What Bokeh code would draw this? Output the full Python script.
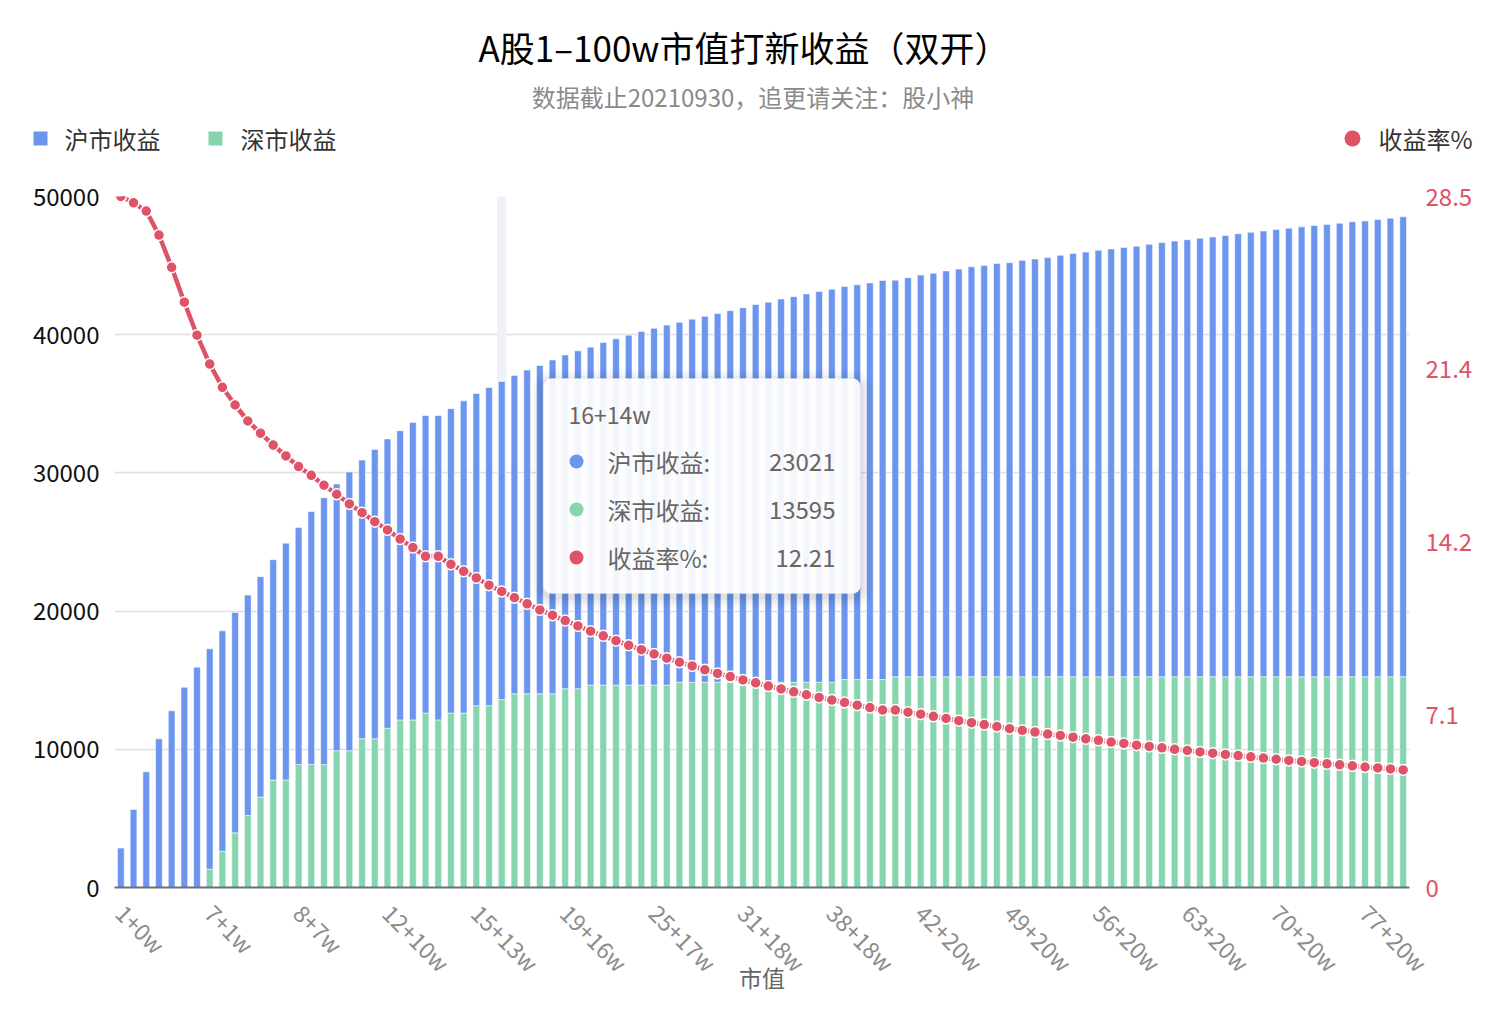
import math
from bokeh.plotting import figure
from bokeh.layouts import column
from bokeh.models import (Range1d, LinearAxis, FixedTicker, Label, BoxAnnotation,
                          ColumnDataSource)
from bokeh.embed import file_html
from bokeh.resources import INLINE

# ---------------- data ----------------
categories = [
    "1+0w", "2+0w", "3+0w", "4+0w", "5+0w", "6+0w", "7+0w",
    "7+1w", "7+2w", "7+3w", "7+4w", "7+5w", "7+6w",
    "8+6w", "8+7w", "9+7w", "10+7w", "10+8w", "11+8w", "11+9w", "12+9w", "12+10w",
    "12+11w", "13+11w", "13+12w", "14+11w", "14+12w", "15+12w", "15+13w", "16+13w",
    "16+14w", "16+15w", "17+15w", "18+15w", "19+15w", "19+16w", "20+16w", "20+17w",
    "21+17w", "22+17w", "23+17w", "24+17w", "25+17w", "26+17w", "26+18w", "27+18w",
    "28+18w", "29+18w", "30+18w", "31+18w", "32+18w", "33+18w", "34+18w", "35+18w",
    "36+18w", "37+18w", "38+18w", "38+19w", "39+19w", "40+19w", "41+19w", "40+20w",
    "41+20w", "42+20w", "43+20w", "44+20w", "45+20w", "46+20w", "47+20w", "48+20w",
    "49+20w", "50+20w", "51+20w", "52+20w", "53+20w", "54+20w", "55+20w", "56+20w",
    "57+20w", "58+20w", "59+20w", "60+20w", "61+20w", "62+20w", "63+20w", "64+20w",
    "65+20w", "66+20w", "67+20w", "68+20w", "69+20w", "70+20w", "71+20w", "72+20w",
    "73+20w", "74+20w", "75+20w", "76+20w", "77+20w", "78+20w", "79+20w", "80+20w",
]

sh_income = [
    2850, 5647, 8371, 10763, 12790, 14484, 15946,
    15946, 15946, 15946, 15946, 15946, 15946,
    17142, 17142, 18304, 19301, 19301, 20164, 20164, 20929, 20929,
    20929, 21527, 21527, 22025, 22025, 22589, 22589, 23021,
    23021, 23021, 23420, 23752, 24151, 24151, 24450, 24450,
    24782, 25048, 25314, 25579, 25812, 26045, 26045, 26277,
    26477, 26676, 26892, 27108, 27340, 27507, 27739, 27905,
    28104, 28271, 28437, 28437, 28560, 28700, 28880, 28700,
    28880, 29067, 29200, 29366, 29499, 29665, 29765, 29898,
    29964, 30131, 30230, 30330, 30496, 30629, 30728, 30861,
    30961, 31061, 31160, 31293, 31426, 31526, 31625, 31725,
    31825, 31924, 32057, 32157, 32257, 32356, 32456, 32556,
    32655, 32722, 32821, 32921, 32987, 33087, 33187, 33286,
]

sz_income = [
    0, 0, 0, 0, 0, 0, 0,
    1329, 2624, 3953, 5216, 6544, 7773,
    7773, 8903, 8903, 8903, 9900, 9900, 10763, 10763, 11527,
    12125, 12125, 12624, 12125, 12624, 12624, 13155, 13155,
    13595, 14019, 14019, 14019, 14019, 14384, 14384, 14650,
    14650, 14650, 14650, 14650, 14650, 14650, 14849, 14849,
    14849, 14849, 14849, 14849, 14849, 14849, 14849, 14849,
    14849, 14849, 14849, 15050, 15050, 15050, 15050, 15248,
    15248, 15248, 15248, 15248, 15248, 15248, 15248, 15248,
    15248, 15248, 15248, 15248, 15248, 15248, 15248, 15248,
    15248, 15248, 15248, 15248, 15248, 15248, 15248, 15248,
    15248, 15248, 15248, 15248, 15248, 15248, 15248, 15248,
    15248, 15248, 15248, 15248, 15248, 15248, 15248, 15248,
]

rate_pct = [
    28.50, 28.24, 27.90, 26.91, 25.58, 24.14, 22.78,
    21.59, 20.63, 19.90, 19.24, 18.74, 18.25,
    17.80, 17.36, 17.00, 16.59, 16.22, 15.82, 15.46, 15.09, 14.75,
    14.37, 14.02, 13.66, 13.66, 13.33, 13.04, 12.77, 12.47,
    12.21, 11.95, 11.70, 11.45, 11.23, 11.01, 10.79, 10.57,
    10.38, 10.18, 9.99, 9.81, 9.63, 9.46, 9.29, 9.14,
    8.98, 8.83, 8.70, 8.56, 8.44, 8.31, 8.19, 8.07,
    7.95, 7.84, 7.73, 7.63, 7.52, 7.42, 7.32, 7.32,
    7.23, 7.15, 7.06, 6.97, 6.88, 6.80, 6.72, 6.64,
    6.55, 6.48, 6.41, 6.33, 6.27, 6.20, 6.13, 6.07,
    6.00, 5.94, 5.87, 5.82, 5.76, 5.70, 5.65, 5.59,
    5.54, 5.49, 5.44, 5.39, 5.34, 5.29, 5.24, 5.20,
    5.15, 5.10, 5.06, 5.02, 4.97, 4.93, 4.89, 4.85,
]

left_ticks = [0, 10000, 20000, 30000, 40000, 50000]
right_ticks = [0, 7.125, 14.25, 21.375, 28.5]
right_tick_labels = ["0", "7.1", "14.2", "21.4", "28.5"]
x_label_step = 7
hover_index = 30

title_text = "A股1–100w市值打新收益（双开）"
subtitle_text = "数据截止20210930，追更请关注：股小神"
series_names = ["沪市收益", "深市收益", "收益率%"]
x_name = "市值"

# ---------------- style ----------------
FONT = "Noto Sans CJK SC"
BLUE = "#6B95EF"
GREEN = "#85D5AE"
RED = "#DE5368"

N = len(categories)
xs = list(range(N))

W = 1478
HH = 160                      # header height
H = 1002 - HH                 # main figure height
ML, MR, MT, MB = 114, 69, 36, 115
FW, FH = W - ML - MR, H - MT - MB
FRAME_TOP = HH + MT           # page y of frame top


def dx(px):  # page pixel x -> data x
    return -0.5 + (px - ML) / FW * N


def dy(py):  # page pixel y -> data y (left axis)
    return (FRAME_TOP + FH - py) / FH * left_ticks[-1]


# ---------------- header (title, subtitle, legend) ----------------
hd = figure(width=W, height=HH, x_range=Range1d(0, W), y_range=Range1d(HH, 0),
            x_axis_type=None, y_axis_type=None, output_backend="svg",
            toolbar_location=None, min_border_left=0, min_border_right=0,
            min_border_top=0, min_border_bottom=0)
hd.frame_align = False
hd.outline_line_color = None
hd.grid.visible = False
hd.background_fill_color = "white"
hd.border_fill_color = "white"

hd.add_layout(Label(x=743.5, y=46, text=title_text, text_align="center",
                    text_baseline="middle", text_font=FONT, text_font_size="35px",
                    text_color="#000000"))
hd.add_layout(Label(x=752.5, y=96, text=subtitle_text, text_align="center",
                    text_baseline="middle", text_font=FONT, text_font_size="24px",
                    text_color="#8A8A8A"))
# legend markers
hd.rect(x=[40, 215], y=[138, 138], width=14, height=14,
        fill_color=[BLUE, GREEN], line_color=None)
hd.scatter(x=[1352], y=[138], size=16, fill_color=RED, line_color=None)
for tx, name in zip([64, 240, 1378], series_names):
    hd.add_layout(Label(x=tx, y=138, text=name, text_align="left", text_baseline="middle",
                        text_font=FONT, text_font_size="24px", text_color="#333333"))

# ---------------- main chart ----------------
src = ColumnDataSource(dict(x=xs, sh=sh_income, sz=sz_income, rate=rate_pct, cat=categories))

p = figure(width=W, height=H, x_range=Range1d(-0.5, N - 0.5),
           y_range=Range1d(left_ticks[0], left_ticks[-1]),
           output_backend="svg", toolbar_location=None,
           min_border_left=ML, min_border_right=MR, min_border_top=MT, min_border_bottom=MB)
p.frame_align = False
p.outline_line_color = None
p.background_fill_color = "white"
p.border_fill_color = "white"

p.xgrid.visible = False
p.ygrid.ticker = FixedTicker(ticks=left_ticks)
p.ygrid.grid_line_color = "#E0E0E0"
p.ygrid.grid_line_width = 1.5

# left axis
ya = p.yaxis[0]
ya.ticker = FixedTicker(ticks=left_ticks)
ya.axis_line_color = None
ya.major_tick_line_color = None
ya.minor_tick_line_color = None
ya.major_tick_out = 0
ya.major_tick_in = 0
ya.minor_tick_out = 0
ya.major_label_standoff = 15
ya.major_label_text_font = FONT
ya.major_label_text_font_size = "24px"
ya.major_label_text_color = "#111111"

# right axis
p.extra_y_ranges = {"rate": Range1d(right_ticks[0], right_ticks[-1])}
ra = LinearAxis(y_range_name="rate", ticker=FixedTicker(ticks=right_ticks),
                major_label_overrides={t: s for t, s in zip(right_ticks, right_tick_labels)})
ra.axis_line_color = None
ra.major_tick_line_color = None
ra.minor_tick_line_color = None
ra.major_tick_out = 0
ra.major_tick_in = 0
ra.minor_tick_out = 0
ra.major_label_standoff = 16
ra.major_label_text_font = FONT
ra.major_label_text_font_size = "24px"
ra.major_label_text_color = RED
p.add_layout(ra, "right")

# bottom axis
xa = p.xaxis[0]
shown = list(range(0, N, x_label_step))
xa.ticker = FixedTicker(ticks=shown)
xa.major_label_overrides = {i: categories[i] for i in shown}
xa.major_label_orientation = -math.pi / 4
xa.axis_line_color = "#6E7079"
xa.axis_line_width = 2
xa.major_tick_line_color = None
xa.minor_tick_line_color = None
xa.major_tick_out = 0
xa.major_tick_in = 0
xa.minor_tick_out = 0
xa.major_label_standoff = 21
xa.major_label_text_font = FONT
xa.major_label_text_font_size = "23px"
xa.major_label_text_color = "#8C8C8C"
xa.axis_label = x_name
xa.axis_label_text_font = FONT
xa.axis_label_text_font_size = "23px"
xa.axis_label_text_font_style = "normal"
xa.axis_label_text_color = "#666666"
xa.axis_label_standoff = -34

# hover shadow band
p.vbar(x=[xs[hover_index]], top=[left_ticks[-1]], width=0.75, fill_color="#EEF1F8",
       line_color=None)

# stacked bars
bar_rs = p.vbar_stack(["sz", "sh"], x="x", width=0.53, source=src,
                      fill_color=[GREEN, BLUE], line_color="#FFFFFF", line_alpha=0.55,
                      line_width=1)

# rate line
p.line("x", "rate", source=src, y_range_name="rate", line_color=RED, line_width=4.5)
dot_r = p.scatter("x", "rate", source=src, y_range_name="rate", size=11,
                  fill_color=RED, line_color="white", line_width=1.5)

# tooltip
TL, TR, TT, TB = 543, 860, 378, 593
for grow, alpha in [(12, 0.02), (9, 0.025), (6, 0.035), (3, 0.045)]:
    p.add_layout(BoxAnnotation(left=dx(TL - grow), right=dx(TR + grow),
                               top=dy(TT - grow + 3), bottom=dy(TB + grow + 3),
                               fill_color="black", fill_alpha=alpha, line_color=None,
                               border_radius=8 + grow))
p.add_layout(BoxAnnotation(left=dx(TL), right=dx(TR), top=dy(TT), bottom=dy(TB),
                           fill_color="white", fill_alpha=0.93, line_color="#EBEBEB",
                           line_width=1, border_radius=8))
p.add_layout(Label(x=dx(568), y=dy(413), text=categories[hover_index], text_align="left",
                   text_baseline="middle", text_font=FONT, text_font_size="23px",
                   text_color="#666666"))
row_vals = [str(sh_income[hover_index]), str(sz_income[hover_index]),
            f"{rate_pct[hover_index]:.2f}"]
row_cols = [BLUE, GREEN, RED]
for k, (nm, val, col) in enumerate(zip(series_names, row_vals, row_cols)):
    cy = 461 + 48 * k
    p.add_layout(BoxAnnotation(left=dx(569), right=dx(583), top=dy(cy - 7),
                               bottom=dy(cy + 7), fill_color=col, fill_alpha=1,
                               line_color=None, border_radius=7))
    p.add_layout(Label(x=dx(607), y=dy(cy), text=nm + ":", text_align="left",
                       text_baseline="middle", text_font=FONT, text_font_size="24px",
                       text_color="#666666"))
    p.add_layout(Label(x=dx(835), y=dy(cy), text=val, text_align="right",
                       text_baseline="middle", text_font=FONT, text_font_size="24px",
                       text_color="#666666"))

layout = column(hd, p, spacing=0)
open("out.html", "w").write(file_html(layout, INLINE))
